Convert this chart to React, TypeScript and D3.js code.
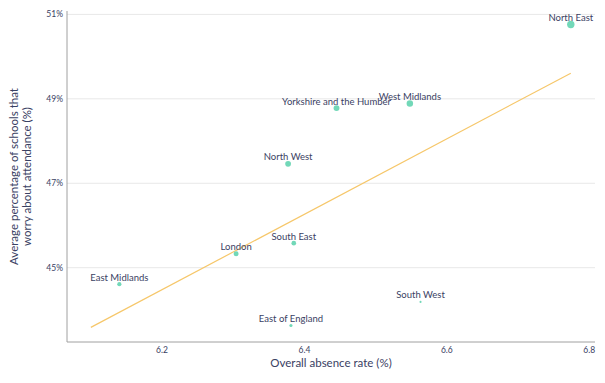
import React from "react";
import * as d3 from "d3";

const regions = [
  "North East",
  "West Midlands",
  "Yorkshire and the Humber",
  "North West",
  "London",
  "South East",
  "East Midlands",
  "East of England",
  "South West",
];
const absenceRate = [6.774, 6.548, 6.445, 6.377, 6.304, 6.385, 6.14, 6.381, 6.563];
const worryPct = [50.76, 48.89, 48.78, 47.46, 45.33, 45.58, 44.61, 43.63, 44.19];
const pointWeight = [12.5, 9.5, 8, 7.5, 5.5, 5, 4, 2.2, 1];
const xTicks = [6.2, 6.4, 6.6, 6.8];
const yTicks = [45, 47, 49, 51];
const trendStartX = 6.1;

const W = 605;
const H = 383;
const left = 67;
const right = 595;
const top = 11;
const bottom = 342;
const textColor = "#3a4163";
const font = "Lato, 'Open Sans', sans-serif";

export default function App() {
  const x = d3.scaleLinear().domain([6.0665, 6.808]).range([left, right]);
  const y = d3.scaleLinear().domain([43.24, 51.08]).range([bottom, top]);
  const r = d3.scaleSqrt().domain([0, d3.max(pointWeight) as number]).range([0, 3.7]);

  const mx = d3.mean(absenceRate) as number;
  const my = d3.mean(worryPct) as number;
  let sxy = 0;
  let sxx = 0;
  absenceRate.forEach((v, i) => {
    sxy += (v - mx) * (worryPct[i] - my);
    sxx += (v - mx) * (v - mx);
  });
  const slope = sxy / sxx;
  const intercept = my - slope * mx;
  const trendX = [trendStartX, d3.max(absenceRate) as number];
  const line = d3
    .line<number>()
    .x((d) => x(d))
    .y((d) => y(intercept + slope * d));

  return (
    <svg
      width={W}
      height={H}
      style={{ position: "absolute", left: 0, top: 0, background: "#fff" }}
      fontFamily={font}
    >
      {yTicks.map((t) => (
        <g key={t}>
          <line x1={left} x2={right} y1={y(t)} y2={y(t)} stroke="#e8e8e8" strokeWidth={1} />
          <text
            x={left - 4}
            y={y(t)}
            dy="0.35em"
            textAnchor="end"
            fontSize={8.5}
            fill={textColor}
          >
            {t}%
          </text>
        </g>
      ))}
      <line x1={left} x2={left} y1={top} y2={bottom} stroke="#a0a0a0" strokeWidth={1} />
      <line x1={left} x2={right} y1={bottom} y2={bottom} stroke="#a0a0a0" strokeWidth={1} />
      {xTicks.map((t) => (
        <text key={t} x={x(t)} y={353} textAnchor="middle" fontSize={8.5} fill={textColor}>
          {t.toFixed(1)}
        </text>
      ))}
      <text x={(left + right) / 2} y={367} textAnchor="middle" fontSize={11.5} fill={textColor}>
        Overall absence rate (%)
      </text>
      <g transform={`translate(18, ${(top + bottom) / 2}) rotate(-90)`}>
        <text textAnchor="middle" fontSize={11.5} fill={textColor}>
          <tspan x={0} dy={0}>Average percentage of schools that</tspan>
          <tspan x={0} dy={13}>worry about attendance (%)</tspan>
        </text>
      </g>
      <path d={line(trendX) || ""} fill="none" stroke="#f6c76a" strokeWidth={1.2} />
      {regions.map((name, i) => (
        <g key={name}>
          <circle cx={x(absenceRate[i])} cy={y(worryPct[i])} r={r(pointWeight[i])} fill="#72d8b8" />
          <text
            x={x(absenceRate[i])}
            y={y(worryPct[i]) - 3.5}
            textAnchor="middle"
            fontSize={9.5}
            fill={textColor}
          >
            {name}
          </text>
        </g>
      ))}
    </svg>
  );
}
